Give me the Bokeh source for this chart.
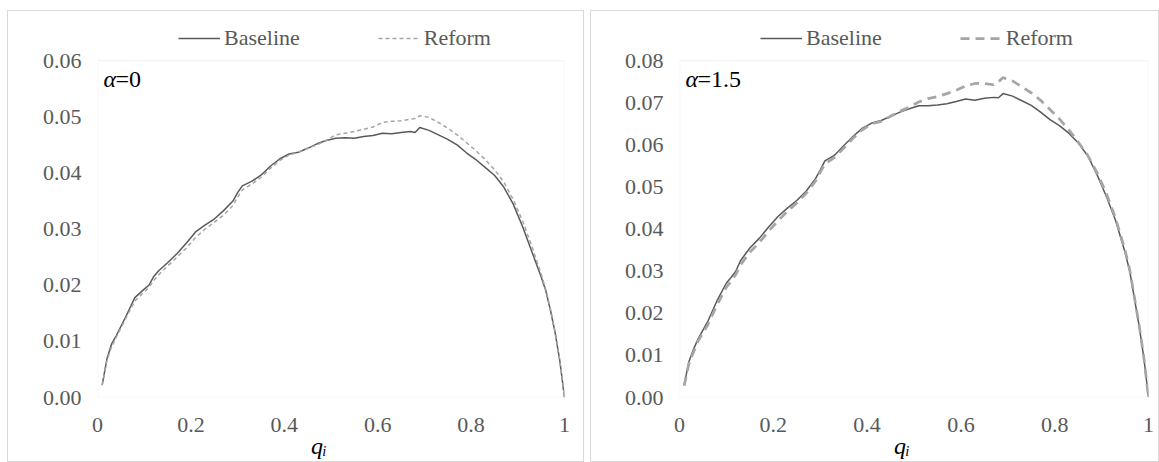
from bokeh.plotting import figure
from bokeh.models import (Label, Legend, LegendItem, FixedTicker, NumeralTickFormatter, Range1d,
                          BoxAnnotation)
from bokeh.layouts import row
from bokeh.embed import file_html
from bokeh.resources import INLINE

# ---- data ----
q = [0.01, 0.02, 0.03, 0.04, 0.06, 0.08, 0.10, 0.11, 0.12, 0.13, 0.15, 0.17, 0.19, 0.21, 0.23,
     0.25, 0.27, 0.29, 0.30, 0.31, 0.33, 0.35, 0.37, 0.39, 0.41, 0.43, 0.45, 0.47, 0.49, 0.51,
     0.53, 0.55, 0.57, 0.59, 0.61, 0.63, 0.65, 0.67, 0.68, 0.69, 0.71, 0.73, 0.75, 0.77, 0.79,
     0.81, 0.83, 0.85, 0.87, 0.89, 0.91, 0.93, 0.95, 0.96, 0.97, 0.98, 0.99, 1.00]

baseline_a0 = [0.0022, 0.0068, 0.0095, 0.0110, 0.0143, 0.0178, 0.0193, 0.0200, 0.0215, 0.0225,
               0.0240, 0.0256, 0.0275, 0.0295, 0.0307, 0.0318, 0.0333, 0.0350, 0.0365, 0.0377,
               0.0385, 0.0396, 0.0412, 0.0425, 0.0434, 0.0437, 0.0444, 0.0452, 0.0458, 0.0462,
               0.0463, 0.0462, 0.0465, 0.0467, 0.0471, 0.0470, 0.0472, 0.0474, 0.0472, 0.0481,
               0.0476, 0.0468, 0.0460, 0.0450, 0.0436, 0.0424, 0.0410, 0.0396, 0.0375, 0.0345,
               0.0305, 0.0260, 0.0215, 0.0190, 0.0155, 0.0115, 0.0065, 0.0000]

reform_a0 = [0.0022, 0.0065, 0.0090, 0.0107, 0.0140, 0.0172, 0.0188, 0.0196, 0.0208, 0.0218,
             0.0234, 0.0250, 0.0266, 0.0285, 0.0300, 0.0312, 0.0325, 0.0342, 0.0357, 0.0370,
             0.0380, 0.0392, 0.0408, 0.0422, 0.0432, 0.0437, 0.0444, 0.0450, 0.0458, 0.0468,
             0.0471, 0.0474, 0.0478, 0.0482, 0.0490, 0.0492, 0.0493, 0.0496, 0.0497, 0.0502,
             0.0499, 0.0490, 0.0480, 0.0468, 0.0454, 0.0440, 0.0424, 0.0406, 0.0384, 0.0353,
             0.0315, 0.0270, 0.0220, 0.0192, 0.0157, 0.0117, 0.0066, 0.0000]

baseline_a15 = [0.0030, 0.0085, 0.0115, 0.0140, 0.0180, 0.0230, 0.0272, 0.0285, 0.0300, 0.0325,
                0.0355, 0.0378, 0.0405, 0.0430, 0.0450, 0.0468, 0.0490, 0.0520, 0.0540, 0.0562,
                0.0575, 0.0598, 0.0620, 0.0640, 0.0652, 0.0658, 0.0668, 0.0678, 0.0686, 0.0693,
                0.0693, 0.0695, 0.0698, 0.0703, 0.0709, 0.0706, 0.0711, 0.0713, 0.0712, 0.0722,
                0.0716, 0.0705, 0.0694, 0.0678, 0.0660, 0.0646, 0.0628, 0.0605, 0.0575, 0.0530,
                0.0478, 0.0420, 0.0345, 0.0300, 0.0235, 0.0170, 0.0095, 0.0000]

reform_a15 = [0.0028, 0.0080, 0.0108, 0.0135, 0.0172, 0.0220, 0.0262, 0.0276, 0.0292, 0.0315,
              0.0345, 0.0368, 0.0395, 0.0420, 0.0442, 0.0462, 0.0485, 0.0514, 0.0535, 0.0555,
              0.0570, 0.0592, 0.0616, 0.0636, 0.0650, 0.0656, 0.0668, 0.0680, 0.0690, 0.0702,
              0.0710, 0.0715, 0.0722, 0.0730, 0.0740, 0.0746, 0.0746, 0.0743, 0.0750, 0.0760,
              0.0752, 0.0738, 0.0724, 0.0706, 0.0684, 0.0662, 0.0636, 0.0607, 0.0576, 0.0535,
              0.0485, 0.0425, 0.0350, 0.0303, 0.0238, 0.0172, 0.0096, 0.0000]

x_ticks = [0, 0.2, 0.4, 0.6, 0.8, 1]
y_ticks_a0 = [0, 0.01, 0.02, 0.03, 0.04, 0.05, 0.06]
y_ticks_a15 = [0, 0.01, 0.02, 0.03, 0.04, 0.05, 0.06, 0.07, 0.08]
alpha_values = ["0", "1.5"]
series_names = ["Baseline", "Reform"]
x_title = "q\u1d62"

FONT = "Liberation Serif"
GRAY = "#595959"
LIGHT = "#a6a6a6"
BORDER = "#d9d9d9"

PLOT_H = 343      # height of the visible plot area (px)
FRAME_H = 384     # full drawing frame incl. legend strip above the plot area


def make_panel(width, left, right, ymax, yticks, base, ref, alpha_txt, ref_width, ref_dash, marg):
    top = ymax * FRAME_H / PLOT_H
    p = figure(width=width, height=450, output_backend="svg", toolbar_location=None,
               x_range=Range1d(0, 1), y_range=Range1d(0, top),
               min_border_left=left, min_border_right=right,
               min_border_top=9, min_border_bottom=57)
    p.margin = marg
    p.styles = {"outline": "1px solid " + BORDER}
    p.grid.visible = False
    p.outline_line_color = None
    p.background_fill_color = "white"
    p.border_fill_color = "white"

    # visible plot-area border (0..1 x 0..ymax)
    p.add_layout(BoxAnnotation(left=0, right=1, bottom=0, top=ymax, fill_alpha=0,
                               line_color=BORDER, line_width=1.5))

    for ax in (p.xaxis[0], p.yaxis[0]):
        ax.axis_line_color = None
        ax.major_tick_line_color = None
        ax.minor_tick_line_color = None
        ax.major_label_text_font = FONT
        ax.major_label_text_font_size = "22px"
        ax.major_label_text_color = GRAY
    p.xaxis.ticker = FixedTicker(ticks=x_ticks)
    p.xaxis.major_label_overrides = {0: "0", 1: "1"}
    p.xaxis.major_label_standoff = 14
    p.yaxis.ticker = FixedTicker(ticks=yticks)
    p.yaxis.formatter = NumeralTickFormatter(format="0.00")
    p.yaxis.major_label_standoff = 10

    p.xaxis.axis_label = x_title + "\u00a0" * 4
    p.xaxis.axis_label_text_font = FONT
    p.xaxis.axis_label_text_font_size = "24px"
    p.xaxis.axis_label_text_font_style = "italic"
    p.xaxis.axis_label_text_color = "black"
    p.xaxis.axis_label_standoff = -2

    r1 = p.line(q, base, line_color=GRAY, line_width=1.5)
    r2 = p.line(q, ref, line_color=LIGHT, line_width=ref_width, line_dash=ref_dash)

    legend = Legend(items=[LegendItem(label=series_names[0], renderers=[r1]),
                           LegendItem(label=series_names[1], renderers=[r2])],
                    orientation="horizontal", location=(81, 346), padding=0, margin=0,
                    spacing=78, glyph_width=42, glyph_height=24, label_height=24,
                    label_standoff=4,
                    border_line_alpha=0, background_fill_alpha=0,
                    label_text_font=FONT, label_text_font_size="22px",
                    label_text_color=GRAY)
    p.add_layout(legend)

    p.add_layout(Label(x=6, y=319, x_units="screen", y_units="screen", text="α",
                       text_font=FONT, text_font_size="24px", text_font_style="italic",
                       text_color="black", text_baseline="alphabetic"))
    p.add_layout(Label(x=18, y=319, x_units="screen", y_units="screen", text="=" + alpha_txt,
                       text_font=FONT, text_font_size="24px",
                       text_color="black", text_baseline="alphabetic"))
    return p


p1 = make_panel(575, 89, 19, 0.06, y_ticks_a0, baseline_a0, reform_a0, alpha_values[0], 1.5, "4 3",
                (11, 0, 0, 8))
p2 = make_panel(567, 88, 10, 0.08, y_ticks_a15, baseline_a15, reform_a15, alpha_values[1], 2.75, "9 6",
                (11, 0, 0, 0))

layout = row(p1, p2, spacing=8)
open("out.html", "w").write(file_html(layout, INLINE))
